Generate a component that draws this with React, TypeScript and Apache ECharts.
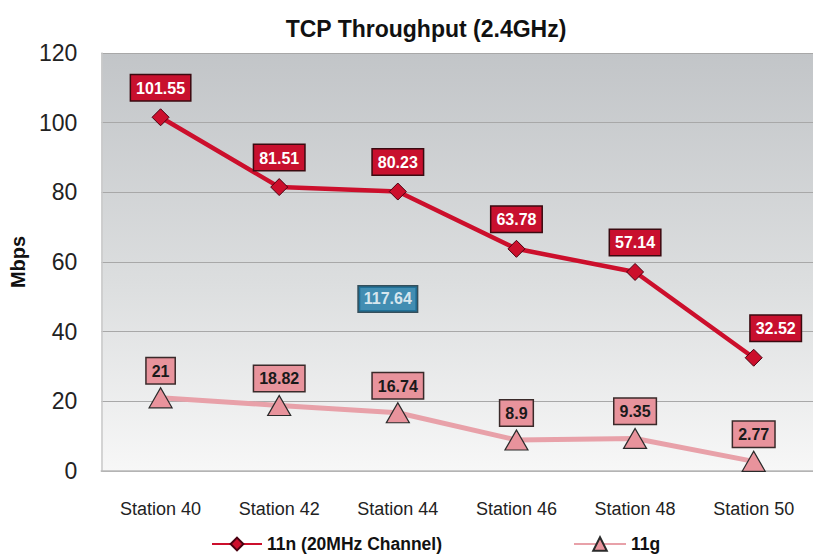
import React, { useEffect, useRef } from "react";
import * as echarts from "echarts";

const categories = ["Station 40", "Station 42", "Station 44", "Station 46", "Station 48", "Station 50"];
const series11n = [101.55, 81.51, 80.23, 63.78, 57.14, 32.52];
const series11g = [21, 18.82, 16.74, 8.9, 9.35, 2.77];
const yTicks = { min: 0, max: 120, interval: 20 };
const strayNote = { text: "117.64", category: "Station 44", value: 49.4 };

const FONT = "Liberation Sans, Arial, Helvetica, sans-serif";

export default function App() {
  const ref = useRef<HTMLDivElement>(null);
  useEffect(() => {
    if (!ref.current) return;
    const chart = echarts.init(ref.current, undefined, { renderer: "svg" });
    const redLabel = {
      show: true,
      position: "top",
      distance: 8,
      color: "#fff",
      fontFamily: FONT,
      fontWeight: "bold",
      fontSize: 16,
      lineHeight: 18,
      backgroundColor: "#c8102e",
      borderColor: "#3a0a10",
      borderWidth: 1.5,
      padding: [4, 5, 3, 5],
    };
    const pinkLabel = {
      show: true,
      position: "top",
      distance: 4,
      color: "#1a1a1a",
      fontFamily: FONT,
      fontWeight: "bold",
      fontSize: 16,
      lineHeight: 18,
      backgroundColor: "#e8939c",
      borderColor: "#3a2a2a",
      borderWidth: 1.5,
      padding: [4, 5, 3, 5],
    };
    const legendText = { fontFamily: FONT, fontWeight: "bold", fontSize: 17.5, lineHeight: 17, color: "#111" };
    chart.setOption({
      animation: false,
      backgroundColor: "#ffffff",
      title: {
        text: "TCP Throughput (2.4GHz)",
        left: 421,
        textAlign: "center",
        top: 12,
        textStyle: { fontFamily: FONT, fontWeight: "bold", fontSize: 23, color: "#111" },
      },
      grid: {
        left: 97,
        top: 53,
        width: 720,
        height: 418,
        show: true,
        borderWidth: 0,
        backgroundColor: new echarts.graphic.LinearGradient(0, 0, 0, 1, [
          { offset: 0, color: "#c2c5c8" },
          { offset: 0.55, color: "#dcdedf" },
          { offset: 1, color: "#f7f7f7" },
        ]),
      },
      legend: [
        {
          data: ["11n (20MHz Channel)"],
          left: 211,
          top: 535,
          padding: 0,
          itemWidth: 50,
          itemHeight: 16,
          textStyle: legendText,
        },
        {
          data: ["11g"],
          left: 573,
          top: 535,
          padding: 0,
          itemWidth: 52,
          itemHeight: 17,
          textStyle: legendText,
        },
      ],
      xAxis: {
        type: "category",
        data: categories,
        boundaryGap: true,
        axisTick: { show: false },
        axisLine: { show: true, lineStyle: { color: "#b8b8b8", width: 1.5 } },
        axisLabel: { fontFamily: FONT, fontSize: 18, color: "#222", margin: 29 },
      },
      yAxis: {
        type: "value",
        min: yTicks.min,
        max: yTicks.max,
        interval: yTicks.interval,
        name: "Mbps",
        nameLocation: "middle",
        nameGap: 66,
        nameRotate: 90,
        nameTextStyle: { fontFamily: FONT, fontWeight: "bold", fontSize: 20, color: "#111" },
        axisLine: { show: true, lineStyle: { color: "#c8c8c8", width: 1.5 } },
        axisTick: { show: false },
        axisLabel: { fontFamily: FONT, fontSize: 23, color: "#222", margin: 24 },
        splitLine: { show: true, lineStyle: { color: "#a8a8a8", width: 1 } },
      },
      series: [
        {
          name: "11n (20MHz Channel)",
          type: "line",
          data: series11n.map((v, i) =>
            i === series11n.length - 1 ? { value: v, label: { offset: [22, 0] } } : v
          ),
          symbol: "diamond",
          symbolSize: 17,
          lineStyle: { color: "#cc0f2c", width: 4.5 },
          itemStyle: { color: "#cc0f2c", borderColor: "#4a0010", borderWidth: 1 },
          label: redLabel,
          z: 3,
        },
        {
          name: "11g",
          type: "line",
          data: series11g,
          symbol: "triangle",
          symbolSize: [23, 20],
          lineStyle: { color: "#e8a1a9", width: 5 },
          itemStyle: { color: "#e8939c", borderColor: "#2a2a2a", borderWidth: 1.2 },
          label: pinkLabel,
          z: 2,
        },
        {
          name: "note",
          type: "scatter",
          data: [[strayNote.category, strayNote.value]],
          symbolSize: 0,
          silent: true,
          label: {
            show: true,
            position: "inside",
            offset: [-10, 0],
            formatter: strayNote.text,
            color: "#fff",
            fontFamily: FONT,
            fontWeight: "bold",
            fontSize: 16,
            lineHeight: 18,
            backgroundColor: "#1a78a6",
            borderColor: "#0a2a3a",
            borderWidth: 1.5,
            padding: [4, 5, 3, 5],
          },
        },
      ],
    });
    return () => chart.dispose();
  }, []);
  return (
    <div
      ref={ref}
      style={{ position: "fixed", left: 0, top: 0, width: 813, height: 554 }}
    />
  );
}
